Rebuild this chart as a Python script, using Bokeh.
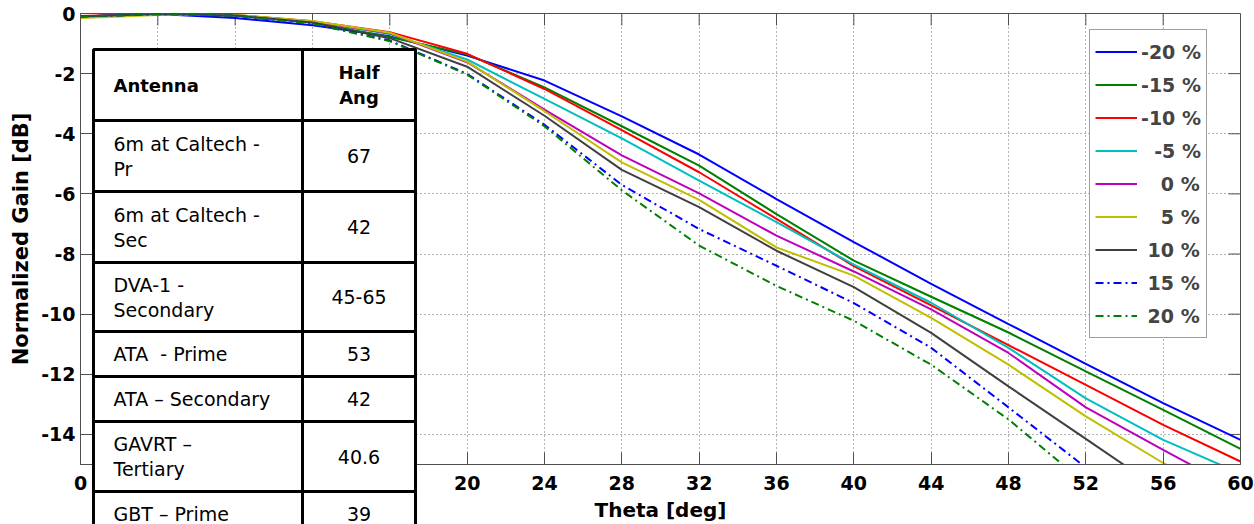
from bokeh.plotting import figure
from bokeh.layouts import column
from bokeh.models import Range1d, FixedTicker, Legend, LegendItem, ColumnDataSource
from bokeh.core.properties import value
from bokeh.embed import file_html
from bokeh.resources import INLINE

nan = float("nan")

# ---------------- data ----------------
theta = [0, 4, 8, 12, 16, 20, 24, 28, 32, 36, 40, 44, 48, 52, 56, 60]

gain_m20 = [-0.10, -0.02, -0.15, -0.39, -0.76, -1.40, -2.23, -3.42, -4.69, -6.17, -7.60, -8.99, -10.33, -11.65, -12.96, -14.18]
gain_m15 = [-0.10, -0.02, -0.07, -0.30, -0.78, -1.36, -2.46, -3.75, -5.06, -6.67, -8.22, -9.42, -10.61, -11.90, -13.18, -14.48]
gain_m10 = [-0.08, -0.01, -0.05, -0.26, -0.62, -1.34, -2.51, -3.88, -5.28, -6.83, -8.40, -9.71, -11.03, -12.35, -13.68, -14.90]
gain_m5 = [-0.10, -0.02, -0.06, -0.27, -0.68, -1.53, -2.84, -4.15, -5.56, -6.94, -8.35, -9.62, -11.12, -12.80, -14.18, -15.30]
gain_p0 = [-0.10, -0.02, -0.06, -0.27, -0.66, -1.62, -3.20, -4.72, -5.98, -7.39, -8.58, -9.84, -11.29, -13.10, -14.51, -15.90]
gain_p5 = [-0.15, -0.05, -0.05, -0.25, -0.64, -1.60, -3.25, -4.95, -6.20, -7.78, -8.72, -10.12, -11.68, -13.40, -14.95, -16.30]
gain_p10 = [-0.10, -0.02, -0.07, -0.30, -0.82, -1.77, -3.40, -5.20, -6.44, -7.89, -9.10, -10.62, -12.40, -14.15, -15.90, nan]
gain_p15 = [-0.10, -0.02, -0.07, -0.33, -0.90, -2.01, -3.70, -5.70, -7.17, -8.39, -9.63, -11.12, -13.10, -15.10, nan, nan]
gain_p20 = [-0.10, -0.02, -0.07, -0.34, -0.92, -2.03, -3.75, -5.88, -7.72, -9.06, -10.22, -11.68, -13.50, -15.65, nan, nan]

series_labels = ["-20 %", "-15 %", "-10 %", "\u00a0\u00a0-5 %", "\u00a0\u00a0\u00a00 %",
                 "\u00a0\u00a0\u00a05 %", "\u00a010 %", "\u00a015 %", "\u00a020 %"]
series_values = [gain_m20, gain_m15, gain_m10, gain_m5, gain_p0, gain_p5, gain_p10, gain_p15, gain_p20]
series_colors = ["#0000ff", "#008000", "#ff0000", "#00bfbf", "#bf00bf", "#bfbf00", "#404040", "#0000ff", "#008000"]
series_dash = ["solid"] * 7 + ["8 4 2 4", "8 4 2 4"]

x_ticks = [0, 4, 8, 12, 16, 20, 24, 28, 32, 36, 40, 44, 48, 52, 56, 60]
x_labelled_ticks = [0, 20, 24, 28, 32, 36, 40, 44, 48, 52, 56, 60]
y_ticks = [0, -2, -4, -6, -8, -10, -12, -14]

table_header = (["Antenna"], ["Half", "Ang"])
table_antennas = [["6m at Caltech -", "Pr"], ["6m at Caltech -", "Sec"], ["DVA-1 -", "Secondary"],
                  ["ATA\u00a0 - Prime"], ["ATA \u2013 Secondary"], ["GAVRT \u2013", "Tertiary"], ["GBT \u2013 Prime"]]
table_half_angles = ["67", "42", "45-65", "53", "42", "40.6", "39"]

# ---------------- main chart ----------------
FONT = "DejaVu Sans"
AX = "#505050"
W, H = 1254, 524
B_LEFT, B_RIGHT, B_TOP, B_BOTTOM = 80, 14, 13, 60
FRAME_W, FRAME_H = W - B_LEFT - B_RIGHT, H - B_TOP - B_BOTTOM
X0, X1, Y0, Y1 = 0, 60, -15, 0

p = figure(width=W, height=H, x_range=Range1d(X0, X1), y_range=Range1d(Y0, Y1),
           output_backend="svg", toolbar_location=None,
           min_border_left=B_LEFT, min_border_right=B_RIGHT,
           min_border_top=B_TOP, min_border_bottom=B_BOTTOM)
p.outline_line_color = AX
p.background_fill_color = "white"

TICK = 12
for ax in (p.xaxis[0], p.yaxis[0]):
    ax.major_tick_in = TICK
    ax.major_tick_out = 0
    ax.minor_tick_line_color = None
    ax.axis_line_color = AX
    ax.major_tick_line_color = AX
    ax.major_label_text_font = FONT
    ax.major_label_text_font_style = "bold"
    ax.major_label_text_font_size = "19px"
    ax.major_label_text_color = "black"
    ax.axis_label_text_font = FONT
    ax.axis_label_text_font_style = "bold"
    ax.axis_label_text_color = "black"

p.xaxis[0].ticker = FixedTicker(ticks=x_labelled_ticks)
p.yaxis[0].ticker = FixedTicker(ticks=y_ticks)
p.yaxis[0].major_label_overrides = {t: str(t) for t in y_ticks}   # plain hyphen-minus as in the original
p.xaxis[0].axis_label = "Theta [deg]"
p.yaxis[0].axis_label = "Normalized Gain [dB]"
p.xaxis[0].axis_label_text_font_size = "20px"
p.yaxis[0].axis_label_text_font_size = "21px"
p.xaxis[0].major_label_standoff = 11
p.xaxis[0].axis_label_standoff = 5
p.yaxis[0].major_label_standoff = 5
p.yaxis[0].axis_label_standoff = 5

for g in (p.xgrid[0], p.ygrid[0]):
    g.grid_line_color = "#666666"
    g.grid_line_dash = "1 3"
    g.grid_line_width = 1
p.xgrid[0].ticker = FixedTicker(ticks=x_ticks)
p.ygrid[0].ticker = FixedTicker(ticks=y_ticks)

# box ticks on top and right edges (inside), length TICK px
dy = TICK * (Y1 - Y0) / FRAME_H
dx = TICK * (X1 - X0) / FRAME_W
p.segment(x0=x_ticks, y0=[Y1] * len(x_ticks), x1=x_ticks, y1=[Y1 - dy] * len(x_ticks),
          line_color=AX, line_width=1)
p.segment(x0=[X1] * len(y_ticks), y0=y_ticks, x1=[X1 - dx] * len(y_ticks), y1=y_ticks,
          line_color=AX, line_width=1)

items = []
for lab, vals, col, dash in zip(series_labels, series_values, series_colors, series_dash):
    r = p.line(theta, vals, line_color=col, line_width=2, line_dash=dash)
    items.append(LegendItem(label=lab, renderers=[r]))

leg_left, leg_bottom = 1089, 338
legend = Legend(items=items, location=(leg_left - B_LEFT, (H - B_BOTTOM) - leg_bottom),
                label_text_font=FONT, label_text_font_style="bold", label_text_font_size="19px",
                glyph_width=42, glyph_height=33, label_height=33, spacing=0, padding=5, margin=0,
                label_standoff=4, border_line_color="#404040", border_line_width=1,
                background_fill_color="white", background_fill_alpha=1.0)
p.add_layout(legend)

# ---------------- table overlay (separate transparent figure, pixel coordinates) ----------------
# The overlay figure has the same width and borders as the main one, so its frame lines up with
# the main frame horizontally; its data units are page pixels.
col_edges = [93, 302, 415]
row_edges = [49, 120, 191, 262, 331, 376, 421, 491, 536]
T_TOP = 47
T_H = H - T_TOP
TEXT_LEFT = 113
LINE_GAP = 25

tbl = figure(width=W, height=T_H, x_range=Range1d(B_LEFT, W - B_RIGHT),
             y_range=Range1d(T_TOP + T_H, T_TOP), output_backend="svg", toolbar_location=None,
             min_border_left=B_LEFT, min_border_right=B_RIGHT, min_border_top=0, min_border_bottom=0,
             x_axis_location=None, y_axis_location=None)
tbl.grid.visible = False
tbl.outline_line_color = None
tbl.background_fill_alpha = 0
tbl.border_fill_alpha = 0
tbl.margin = (-T_H, 0, 0, 0)

rows = [table_header] + [(a, [h]) for a, h in zip(table_antennas, table_half_angles)]
cells = dict(left=[], right=[], top=[], bottom=[])
texts = {key: dict(x=[], y=[], t=[]) for key in ("hl", "hc", "bl", "bc")}
for i, (left_lines, right_lines) in enumerate(rows):
    top, bot = row_edges[i], row_edges[i + 1]
    for c in range(2):
        cells["left"].append(col_edges[c]); cells["right"].append(col_edges[c + 1])
        cells["top"].append(top); cells["bottom"].append(bot)
    cy = (top + bot) / 2
    pre = "h" if i == 0 else "b"
    for cidx, lines in enumerate((left_lines, right_lines)):
        n = len(lines)
        for k, txt in enumerate(lines):
            key = pre + ("l" if cidx == 0 else "c")
            texts[key]["x"].append(TEXT_LEFT if cidx == 0 else (col_edges[1] + col_edges[2]) / 2)
            texts[key]["y"].append(cy + (k - (n - 1) / 2) * LINE_GAP)
            texts[key]["t"].append(txt)

tbl.quad(left="left", right="right", top="top", bottom="bottom", source=ColumnDataSource(cells),
         fill_color="white", line_color="black", line_width=3)
for key, d in texts.items():
    tbl.text(x="x", y="y", text="t", source=ColumnDataSource(d),
             text_font=value(FONT), text_font_size="18px" if key[0] == "h" else "19px",
             text_font_style="bold" if key[0] == "h" else "normal",
             text_align="left" if key[1] == "l" else "center", text_baseline="middle",
             text_color="black")

layout = column(p, tbl)
open("out.html", "w").write(file_html(layout, INLINE))
